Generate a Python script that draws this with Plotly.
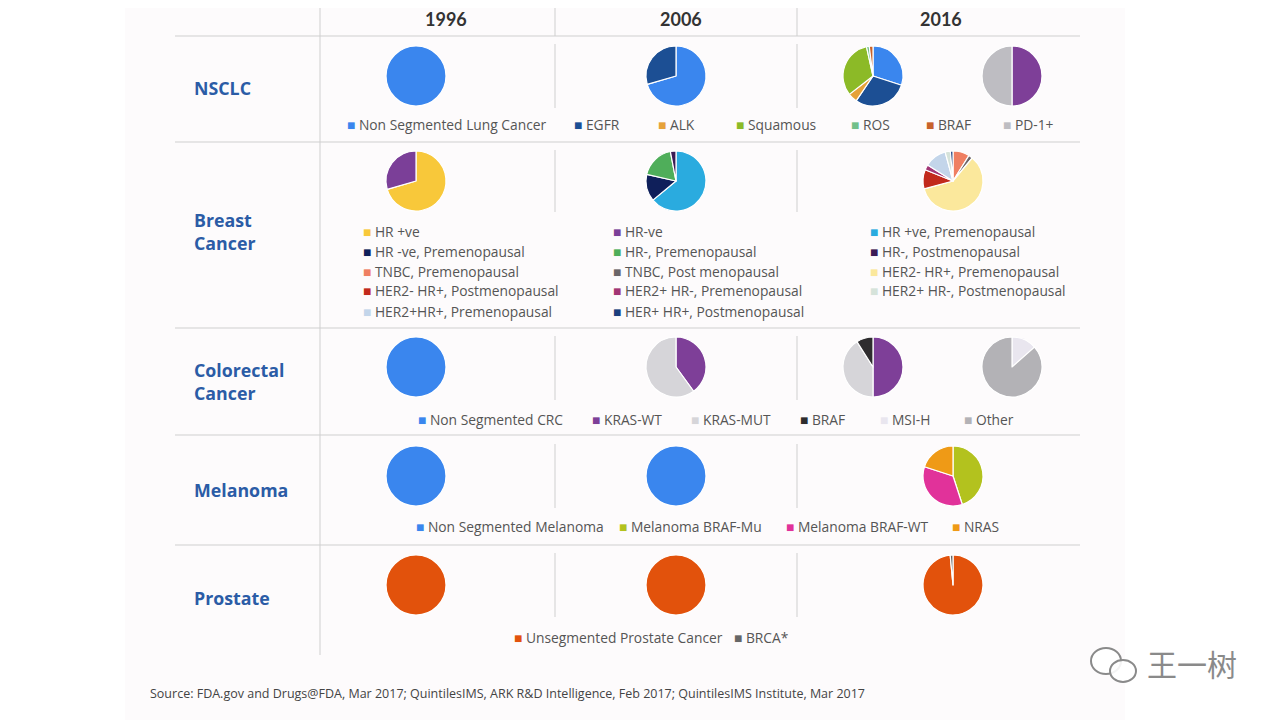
import plotly.graph_objects as go

# ---------------- data ----------------
years = ["1996", "2006", "2016"]
row_names = ["NSCLC", "Breast<br>Cancer", "Colorectal<br>Cancer", "Melanoma", "Prostate"]

# NSCLC
nsclc_1996_labels = ["Non Segmented Lung Cancer"]
nsclc_1996_values = [100]
nsclc_2006_labels = ["Non Segmented Lung Cancer", "EGFR"]
nsclc_2006_values = [70.5, 29.5]
nsclc_2016a_labels = ["Non Segmented Lung Cancer", "EGFR", "ALK", "Squamous", "ROS", "BRAF"]
nsclc_2016a_values = [30, 29.5, 5, 32, 1.5, 2]
nsclc_2016b_labels = ["PD-1 neg", "PD-1+"]
nsclc_2016b_values = [50, 50]
nsclc_legend = ["Non Segmented Lung Cancer", "EGFR", "ALK", "Squamous", "ROS", "BRAF", "PD-1+"]

# Breast
breast_1996_labels = ["HR +ve", "HR-ve"]
breast_1996_values = [70.5, 29.5]
breast_2006_labels = ["HR +ve, Premenopausal", "HR -ve, Premenopausal", "HR-, Premenopausal", "HR-, Postmenopausal"]
breast_2006_values = [64, 14.5, 18.5, 3]
breast_2016_labels = ["TNBC, Premenopausal", "TNBC, Post menopausal", "HER2- HR+, Premenopausal",
                      "HER2- HR+, Postmenopausal", "HER2+ HR-, Premenopausal", "HER2+HR+, Premenopausal",
                      "HER2+ HR-, Postmenopausal", "HER+ HR+, Postmenopausal"]
breast_2016_values = [8.9, 2.2, 59.7, 10.3, 2.8, 11.9, 2.8, 1.4]
breast_legend = ["HR +ve", "HR-ve", "HR +ve, Premenopausal",
                 "HR -ve, Premenopausal", "HR-, Premenopausal", "HR-, Postmenopausal",
                 "TNBC, Premenopausal", "TNBC, Post menopausal", "HER2- HR+, Premenopausal",
                 "HER2- HR+, Postmenopausal", "HER2+ HR-, Premenopausal", "HER2+ HR-, Postmenopausal",
                 "HER2+HR+, Premenopausal", "HER+ HR+, Postmenopausal"]

# Colorectal
crc_1996_labels = ["Non Segmented CRC"]
crc_1996_values = [100]
crc_2006_labels = ["KRAS-WT", "KRAS-MUT"]
crc_2006_values = [40, 60]
crc_2016a_labels = ["KRAS-WT", "KRAS-MUT", "BRAF "]
crc_2016a_values = [50, 41, 9]
crc_2016b_labels = ["MSI-H", "Other"]
crc_2016b_values = [13.5, 86.5]
crc_legend = ["Non Segmented CRC", "KRAS-WT", "KRAS-MUT", "BRAF ", "MSI-H", "Other"]

# Melanoma
mel_1996_labels = ["Non Segmented Melanoma"]
mel_1996_values = [100]
mel_2006_labels = ["Non Segmented Melanoma"]
mel_2006_values = [100]
mel_2016_labels = ["Melanoma BRAF-Mu", "Melanoma BRAF-WT", "NRAS"]
mel_2016_values = [45, 35, 20]
mel_legend = ["Non Segmented Melanoma", "Melanoma BRAF-Mu", "Melanoma BRAF-WT", "NRAS"]

# Prostate
pro_1996_labels = ["Unsegmented Prostate Cancer"]
pro_1996_values = [100]
pro_2006_labels = ["Unsegmented Prostate Cancer"]
pro_2006_values = [100]
pro_2016_labels = ["Unsegmented Prostate Cancer", "BRCA*"]
pro_2016_values = [98.5, 1.5]
pro_legend = ["Unsegmented Prostate Cancer", "BRCA*"]

source_text = ("Source: FDA.gov and Drugs@FDA, Mar 2017; QuintilesIMS, ARK R&D Intelligence, "
               "Feb 2017; QuintilesIMS Institute, Mar 2017")
watermark = "王一树"

# ---------------- styles ----------------
colors = {
    "Non Segmented Lung Cancer": "#3a86ee", "EGFR": "#1c4f94", "ALK": "#e6a23a",
    "Squamous": "#8cba27", "ROS": "#72c08a", "BRAF": "#c8622a", "PD-1+": "#bebdc2",
    "PD-1 neg": "#7e3f98",
    "HR +ve": "#f8c83a", "HR-ve": "#7b3f98", "HR +ve, Premenopausal": "#2aabdf",
    "HR -ve, Premenopausal": "#0f1f5a", "HR-, Premenopausal": "#4fae5a",
    "HR-, Postmenopausal": "#3b1b55", "TNBC, Premenopausal": "#ef7f62",
    "TNBC, Post menopausal": "#6b6568", "HER2- HR+, Premenopausal": "#fbe89c",
    "HER2- HR+, Postmenopausal": "#c2291c", "HER2+ HR-, Premenopausal": "#a23575",
    "HER2+ HR-, Postmenopausal": "#d6e3da", "HER2+HR+, Premenopausal": "#c3d5ea",
    "HER+ HR+, Postmenopausal": "#1b3f7e",
    "Non Segmented CRC": "#3a86ee", "KRAS-WT": "#7e3f98", "KRAS-MUT": "#d6d5d9",
    "BRAF ": "#2e2c2e", "MSI-H": "#e9e6ef", "Other": "#b3b2b6",
    "Non Segmented Melanoma": "#3a86ee", "Melanoma BRAF-Mu": "#b3c21e",
    "Melanoma BRAF-WT": "#e1329a", "NRAS": "#ef9a16",
    "Unsegmented Prostate Cancer": "#e2520c", "BRCA*": "#666666",
}

W, H = 1280, 720
OFF = 8  # page body margin in the browser
R = 30
row_cy = [76, 181, 367, 476, 585]
col_x = {"c1": 416, "c2": 676, "c3": 953, "c3a": 873, "c3b": 1012}


def fx(x):
    return (x - OFF) / W


def fy(y):
    return 1 - (y - OFF) / H


pies = [
    (0, "c1", nsclc_1996_labels, nsclc_1996_values),
    (0, "c2", nsclc_2006_labels, nsclc_2006_values),
    (0, "c3a", nsclc_2016a_labels, nsclc_2016a_values),
    (0, "c3b", nsclc_2016b_labels, nsclc_2016b_values),
    (1, "c1", breast_1996_labels, breast_1996_values),
    (1, "c2", breast_2006_labels, breast_2006_values),
    (1, "c3", breast_2016_labels, breast_2016_values),
    (2, "c1", crc_1996_labels, crc_1996_values),
    (2, "c2", crc_2006_labels, crc_2006_values),
    (2, "c3a", crc_2016a_labels, crc_2016a_values),
    (2, "c3b", crc_2016b_labels, crc_2016b_values),
    (3, "c1", mel_1996_labels, mel_1996_values),
    (3, "c2", mel_2006_labels, mel_2006_values),
    (3, "c3", mel_2016_labels, mel_2016_values),
    (4, "c1", pro_1996_labels, pro_1996_values),
    (4, "c2", pro_2006_labels, pro_2006_values),
    (4, "c3", pro_2016_labels, pro_2016_values),
]

fig = go.Figure()
for row, slot, labels, values in pies:
    cx, cy = col_x[slot], row_cy[row]
    fig.add_trace(go.Pie(
        labels=labels, values=values, sort=False, direction="clockwise", rotation=0,
        marker=dict(colors=[colors[l] for l in labels], line=dict(color="white", width=1.2)),
        textinfo="none", hoverinfo="label+percent", showlegend=False,
        domain=dict(x=[fx(cx - R), fx(cx + R)], y=[fy(cy + R), fy(cy - R)]),
    ))

annotations = []
FONT = "Open Sans, sans-serif"


def px_ann(x, y, text, size=13, color="#555555", anchor="left", bold=False, family=FONT):
    annotations.append(dict(
        x=fx(x), y=fy(y), xref="paper", yref="paper", xanchor=anchor, yanchor="middle",
        text=f"<b>{text}</b>" if bold else text, showarrow=False, align="left",
        font=dict(size=size, color=color, family=family)))


# year headers
for x, yr in zip([446, 681, 941], years):
    px_ann(x, 19, yr, size=18, color="#333333", anchor="center", bold=True,
           family="Lato, sans-serif")

# row labels
for y, name in zip([88, 231, 381, 490, 598], row_names):
    px_ann(192, y, name, size=17.8, color="#2b5ca6", bold=True)


def legend_item(x, y, label):
    px_ann(x, y, f"<span style='color:{colors[label]}'>■</span> {label.strip()}", size=13.8)


for x, lab in zip([345, 572, 656, 734, 849, 924, 1001], nsclc_legend):
    legend_item(x, 125, lab)
breast_cols = [361, 611, 868]
for i, lab in enumerate(breast_legend):
    legend_item(breast_cols[i % 3], 231 + 20 * (i // 3), lab)
for x, lab in zip([416, 590, 689, 798, 878, 962], crc_legend):
    legend_item(x, 419, lab)
for x, lab in zip([414, 617, 784, 950], mel_legend):
    legend_item(x, 526, lab)
for x, lab in zip([512, 732], pro_legend):
    legend_item(x, 637, lab)

px_ann(148, 693, source_text, size=12.5, color="#444444")
px_ann(1192, 663, watermark, size=30, color="#8a8a8a", anchor="center",
       family="Noto Sans CJK SC")

# background panel and grid lines
shapes = [dict(type="rect", xref="paper", yref="paper", x0=fx(125), x1=fx(1125), y0=-0.05, y1=1.05,
               fillcolor="#fdfbfc", line=dict(width=0), layer="below")]
# decorative chat-bubble icon next to the watermark
for (x0, y0, x1, y1) in [(1091, 648, 1121, 674), (1110, 660, 1136, 682)]:
    shapes.append(dict(type="circle", xref="paper", yref="paper", x0=fx(x0), x1=fx(x1),
                       y0=fy(y1), y1=fy(y0), fillcolor="rgba(255,255,255,0.9)",
                       line=dict(color="#8a8a8a", width=2)))
LC = "#cfcfcf"


def hline(y, x0=175, x1=1080):
    shapes.append(dict(type="line", xref="paper", yref="paper", x0=fx(x0), x1=fx(x1),
                       y0=fy(y), y1=fy(y), line=dict(color=LC, width=1)))


def vline(x, y0, y1):
    shapes.append(dict(type="line", xref="paper", yref="paper", x0=fx(x), x1=fx(x),
                       y0=fy(y0), y1=fy(y1), line=dict(color=LC, width=1)))


for y in [36, 142, 328, 435, 545]:
    hline(y)
vline(320, 8, 655)
for x in [555, 797]:
    vline(x, 8, 36)
    vline(x, 44, 108)
    vline(x, 150, 212)
    vline(x, 336, 400)
    vline(x, 444, 508)
    vline(x, 553, 617)

fig.update_layout(
    width=W, height=H, margin=dict(l=0, r=0, t=0, b=0),
    paper_bgcolor="white", plot_bgcolor="white",
    annotations=annotations, shapes=shapes,
)
fig.write_html("out.html")
